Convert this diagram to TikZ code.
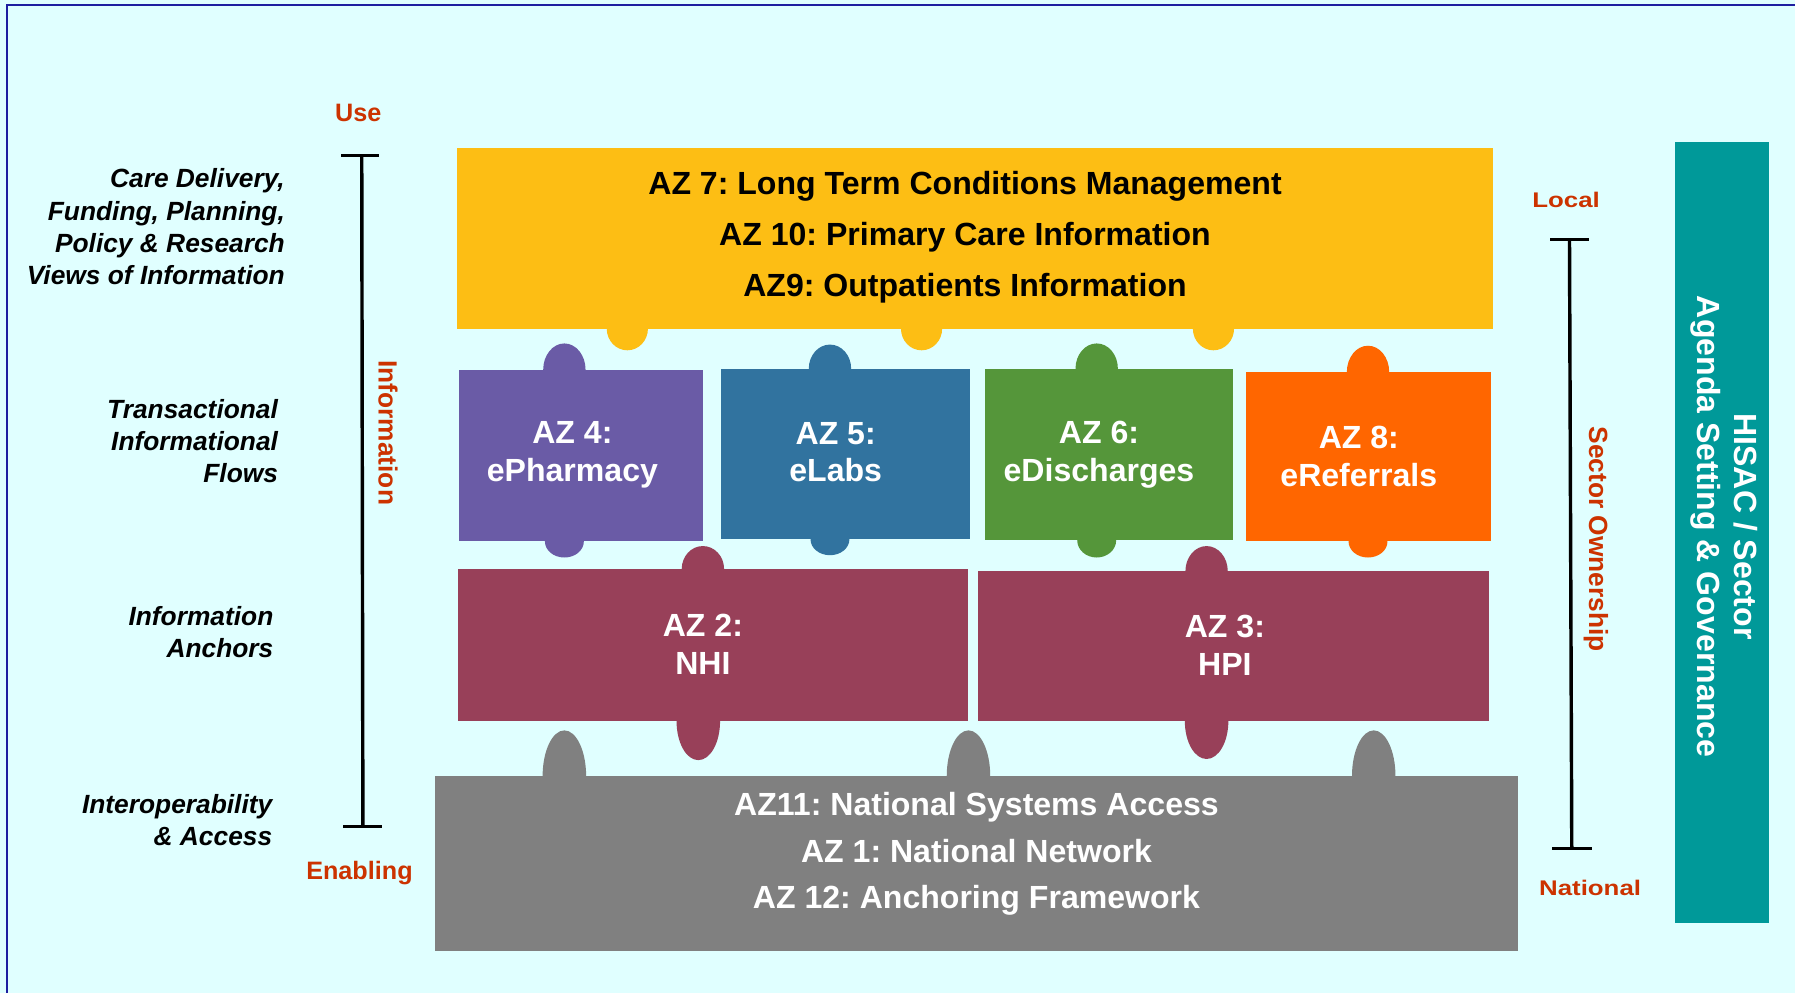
\documentclass[tikz,border=0pt]{standalone}
\usepackage{fontspec}
\setmainfont{Liberation Sans}
\newfontfamily\widefont[FakeStretch=1.22]{Liberation Sans}
\definecolor{bgc}{RGB}{224,255,255}
\definecolor{navyb}{RGB}{30,30,160}
\definecolor{redl}{RGB}{204,51,0}
\definecolor{yel}{RGB}{253,190,20}
\definecolor{purp}{RGB}{106,91,166}
\definecolor{blu}{RGB}{49,115,159}
\definecolor{grn}{RGB}{85,150,58}
\definecolor{org}{RGB}{255,102,0}
\definecolor{mar}{RGB}{152,64,89}
\definecolor{gry}{RGB}{128,128,128}
\definecolor{teal2}{RGB}{0,153,153}
\frenchspacing
\begin{document}
\begin{tikzpicture}[x=1pt,y=-1pt,
  zbox/.style={inner sep=0,outer sep=0,anchor=north west},
  lefttxt/.style={font=\bfseries\itshape\fontsize{23}{28}\selectfont,align=right,anchor=east,inner sep=0},
  whitetxt/.style={font=\bfseries\fontsize{28}{33}\selectfont,text=white,align=center,inner sep=0},
  redlbl/.style={font=\bfseries\fontsize{22}{26}\selectfont,text=redl,inner sep=0},
  widelbl/.style={font=\widefont\bfseries\fontsize{18.5}{22}\selectfont,text=redl,inner sep=0},
  bar/.style={line width=3pt,black},
]
\fill[bgc] (0,0) rectangle (1568,867);
\useasboundingbox (0,0) rectangle (1568,867);
\draw[navyb,line width=1.5pt] (6,867) -- (6,4.5) -- (1568,4.5);

% ---------- bumps ----------
\fill[yel] (548,287) ellipse[x radius=18,y radius=19];
\fill[yel] (805,287) ellipse[x radius=18,y radius=19];
\fill[yel] (1060,287) ellipse[x radius=18,y radius=19];
\fill[purp] (493,323) ellipse[x radius=18.5,y radius=23];
\fill[purp] (493,473) ellipse[x radius=17,y radius=14];
\fill[blu] (725,322) ellipse[x radius=18.5,y radius=21];
\fill[blu] (725,471) ellipse[x radius=17,y radius=14];
\fill[grn] (958,322) ellipse[x radius=18.5,y radius=22];
\fill[grn] (958,472) ellipse[x radius=17,y radius=15];
\fill[org] (1195,325) ellipse[x radius=18.5,y radius=23];
\fill[org] (1195,473) ellipse[x radius=17,y radius=14];
\fill[mar] (614,497) ellipse[x radius=18.5,y radius=20];
\fill[mar] (610,630) ellipse[x radius=19,y radius=34];
\fill[mar] (1054,499) ellipse[x radius=18.5,y radius=22];
\fill[mar] (1054,630) ellipse[x radius=19,y radius=33];
\fill[gry] (493,678) ellipse[x radius=19,y radius=40];
\fill[gry] (846,678) ellipse[x radius=19,y radius=40];
\fill[gry] (1200,678) ellipse[x radius=19,y radius=40];

% ---------- boxes ----------
\node[zbox,fill=yel,minimum width=905,minimum height=158] (az7) at (399,129) {};
\node[zbox,fill=purp,minimum width=213,minimum height=150] (az4) at (401,323) {};
\node[zbox,fill=blu,minimum width=217,minimum height=149] (az5) at (630,322) {};
\node[zbox,fill=grn,minimum width=217,minimum height=150] (az6) at (860,322) {};
\node[zbox,fill=org,minimum width=214,minimum height=148] (az8) at (1088,325) {};
\node[zbox,fill=mar,minimum width=446,minimum height=133] (az2) at (400,497) {};
\node[zbox,fill=mar,minimum width=447,minimum height=131] (az3) at (854,499) {};
\node[zbox,fill=gry,minimum width=946,minimum height=153] (az11) at (380,678) {};
\node[zbox,fill=teal2,minimum width=82,minimum height=682] (hisac) at (1463,124) {};

% ---------- box texts ----------
\node[font=\bfseries\fontsize{28}{44.5}\selectfont,align=center,inner sep=0] (t7) at (843,207)
  {AZ 7: Long Term Conditions Management\\AZ 10: Primary Care Information\\AZ9: Outpatients Information};
\node[whitetxt] (t4) at (500,397) {AZ 4:\\ePharmacy};
\node[whitetxt] (t5) at (730,395) {AZ 5:\\eLabs};
\node[whitetxt] (t6) at (960,397) {AZ 6:\\eDischarges};
\node[whitetxt] (t8) at (1187,399) {AZ 8:\\eReferrals};
\node[whitetxt] (t2) at (614,563) {AZ 2:\\NHI};
\node[whitetxt] (t3) at (1070,564) {AZ 3:\\HPI};
\node[font=\bfseries\fontsize{28}{40.5}\selectfont,text=white,align=center,inner sep=0] (t11) at (853,746)
  {AZ11: National Systems Access\\AZ 1: National Network\\AZ 12: Anchoring Framework};
\node[font=\bfseries\fontsize{28}{32}\selectfont,text=white,align=center,inner sep=0,rotate=-90] (th) at (1506,460)
  {HISAC / Sector\\Agenda Setting \& Governance};

% ---------- left texts ----------
\node[lefttxt] (l1) at (249,198) {Care Delivery,\\Funding, Planning,\\Policy \& Research\\Views of Information};
\node[lefttxt] (l2) at (243,385) {Transactional\\Informational\\Flows};
\node[lefttxt] (l3) at (239,552) {Information\\Anchors};
\node[lefttxt] (l4) at (238,716) {Interoperability\\\& Access};

% ---------- left scale ----------
\coordinate (lt1) at (298,136); \coordinate (lt2) at (331,136);
\coordinate (ltop) at (316,136); \coordinate (lbot) at (317,722);
\coordinate (lb1) at (300,722); \coordinate (lb2) at (334,722);
\draw[bar] (lt1) -- (lt2);
\draw[bar] (ltop) -- (lbot);
\draw[bar] (lb1) -- (lb2);
\node[redlbl] (use) at (313,99) {Use};
\node[redlbl] (enab) at (314,763) {Enabling};
\node[redlbl,rotate=-90,font=\bfseries\fontsize{23}{26}\selectfont] (info) at (339,378) {Information};

% ---------- right scale ----------
\coordinate (rt1) at (1354,209); \coordinate (rt2) at (1388,209);
\coordinate (rtop) at (1371,209); \coordinate (rbot) at (1373,741);
\coordinate (rb1) at (1356,741); \coordinate (rb2) at (1391,741);
\draw[bar] (rt1) -- (rt2);
\draw[bar] (rtop) -- (rbot);
\draw[bar] (rb1) -- (rb2);
\node[widelbl] (loc) at (1368,175) {Local};
\node[widelbl] (nat) at (1389,776) {National};
\node[redlbl,rotate=-90,font=\bfseries\fontsize{23}{26}\selectfont] (own) at (1394,471) {Sector Ownership};
\end{tikzpicture}
\end{document}
